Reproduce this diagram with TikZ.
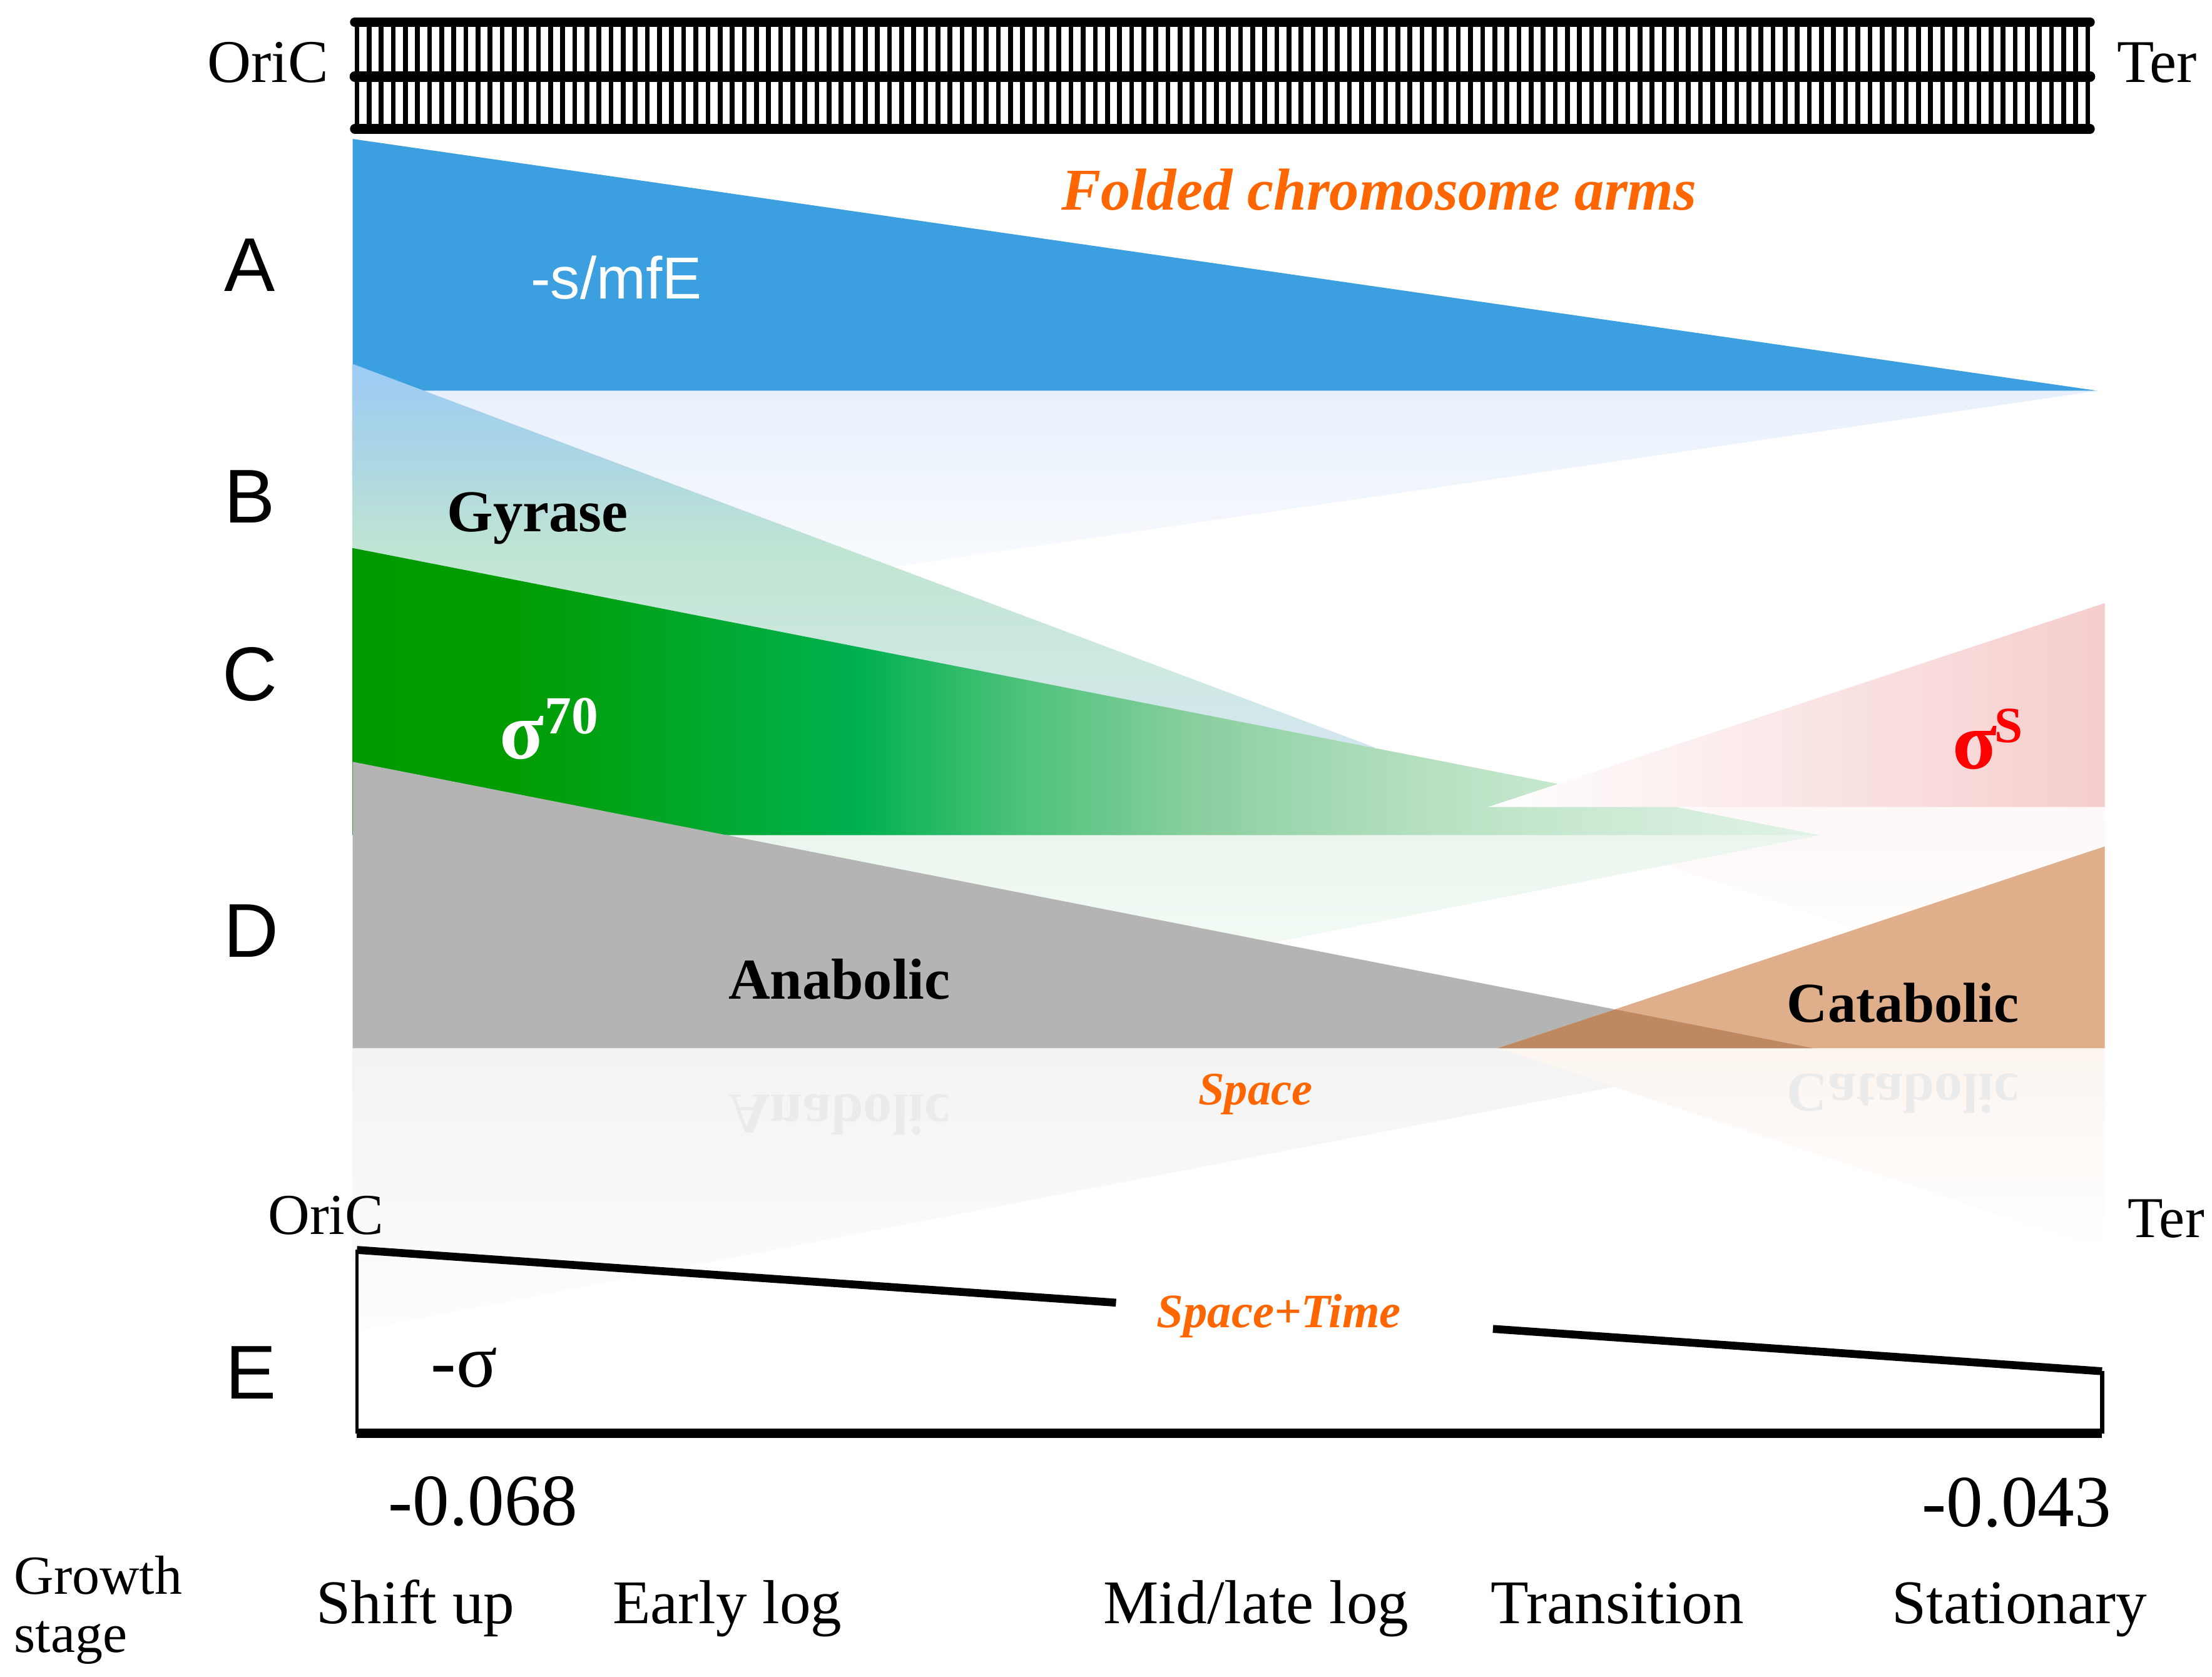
\documentclass[tikz,border=0pt]{standalone}
\usepackage{fontspec}
\setmainfont{Liberation Serif}
\newfontfamily\lsans{Liberation Sans}
\usetikzlibrary{calc}
\newcommand{\setfs}[1]{\fontsize{#1}{#1}\selectfont}
\definecolor{ablue}{HTML}{3CA0E0}
\definecolor{dgray}{HTML}{B4B4B4}
\definecolor{cbrown}{HTML}{DFAE8A}
\definecolor{obrown}{HTML}{BE8860}
\definecolor{orng}{HTML}{FF6600}
\definecolor{spink}{HTML}{F6CDCD}
\definecolor{reflA}{HTML}{E8F0FB}
\definecolor{reflC}{HTML}{EAF6ED}
\definecolor{reflS}{HTML}{FEF8F8}
\definecolor{reflD}{HTML}{F3F3F3}
\definecolor{reflDb}{HTML}{FDFDFD}
\definecolor{reflK}{HTML}{FCF5F0}
\definecolor{gA}{HTML}{009A00}
\definecolor{gB}{HTML}{009C00}
\definecolor{gC}{HTML}{00AD40}
\definecolor{gD}{HTML}{00B050}
\definecolor{gE}{HTML}{4CC27A}
\definecolor{gF}{HTML}{8ACF9F}
\definecolor{gG}{HTML}{AEDDBB}
\definecolor{gH}{HTML}{C3E6CC}
\definecolor{gI}{HTML}{E2F3E7}
\definecolor{bA}{HTML}{D4E6F0}
\definecolor{bB}{HTML}{CDE8E0}
\definecolor{bC}{HTML}{C0E5D2}
\definecolor{bD}{HTML}{ADD7E2}
\definecolor{bE}{HTML}{9DCBF5}
\pgfdeclarehorizontalshading{cshade}{100bp}{color(0bp)=(gA); color(25bp)=(gA); color(30.3bp)=(gB); color(39.9bp)=(gC); color(42.2bp)=(gD); color(47.7bp)=(gE); color(53.8bp)=(gF); color(60bp)=(gG); color(65bp)=(gH); color(75bp)=(gI); color(100bp)=(gI)}
\pgfdeclareverticalshading{bshade}{100bp}{color(0bp)=(bA); color(25bp)=(bA); color(36bp)=(bB); color(50.7bp)=(bC); color(61.8bp)=(bD); color(75bp)=(bE); color(100bp)=(bE)}
\begin{document}
\begin{tikzpicture}[x=0.5pt,y=-0.5pt,
  every node/.style={inner sep=0pt,outer sep=0pt},
  rail/.style={line width=3.4pt,line cap=round},
  rung/.style={line width=1.7pt},
  rowlab/.style={font=\lsans\setfs{27},anchor=center},
  endlab/.style={font=\setfs{21.5},anchor=base},
  boldlab/.style={font=\bfseries\setfs{21},anchor=base},
  orlab/.style={font=\bfseries\itshape,text=orng,anchor=base},
  stagelab/.style={font=\setfs{22},anchor=base},
  numlab/.style={font=\setfs{26},anchor=base},
  mirr/.style={font=\bfseries\setfs{20.5},text=black!8,anchor=base,transform shape}]
\path[fill=white,use as bounding box] (0,0) rectangle (1568,1188.7);

% reflections
\shade[top color=reflA,bottom color=white] (250,277) -- (250,458) -- (1487,277) -- cycle;
\shade[top color=reflS,bottom color=white] (1055,572) -- (1492,572) -- (1492,716) -- cycle;
\shade[top color=reflC,bottom color=white] (250,592) -- (250,796) -- (1290,592) -- cycle;
\shade[top color=reflD,bottom color=reflDb] (250,743) -- (1285,743) -- (250,944) -- cycle;
\shade[top color=reflK,bottom color=white] (1062,743) -- (1492,743) -- (1492,886) -- cycle;

% A
\fill[ablue] (250,98.5) -- (1487,277) -- (250,277) -- cycle;
% B
\shade[shading=bshade] (250,258) -- (975,530) -- (250,530) -- cycle;
% C
\shade[shading=cshade] (250,388.5) -- (1290,592) -- (250,592) -- cycle;
% sigma S
\shade[left color=white,right color=spink] (1055,572) -- (1492,427.5) -- (1492,572) -- cycle;
% D
\fill[dgray] (250,540) -- (1285,743) -- (250,743) -- cycle;
% catabolic
\fill[cbrown] (1062,743) -- (1492,600) -- (1492,743) -- cycle;
\fill[obrown] (1062,743) -- (1145,715.5) -- (1285,743) -- cycle;

% mirrored labels
\begin{scope}[shift={(595,776)},yscale=-1]
\node[mirr] (anamir) at (0,0) {Anabolic};
\end{scope}
\begin{scope}[shift={(1349,761.5)},yscale=-1]
\node[mirr,font=\bfseries\setfs{20}] (catmir) at (0,0) {Catabolic};
\end{scope}

% chromosome ladder
\foreach \i in {0,...,143} \draw[rung] ({253+\i*8.58},16) -- ({253+\i*8.58},91);
\draw[rail] (251.5,15.7) -- (1481.5,15.7);
\draw[rail,line width=3.7pt] (251.5,54.2) -- (1481.5,54.2);
\draw[rail] (251.5,91.4) -- (1481.5,91.4);

% E box
\coordinate (eTL) at (253,886);
\coordinate (eTR) at (1490,972);
\coordinate (eBR) at (1490,1016);
\coordinate (eBL) at (253,1016);
\draw[line width=2.8pt] (eTL) -- ($(eTL)!0.435!(eTR)$);
\draw[line width=2.8pt] ($(eTL)!0.651!(eTR)$) -- (eTR);
\draw[line width=1pt] (eTL) -- (eBL);
\draw[line width=1.6pt] (eTR) -- (eBR);
\draw[line width=3.2pt] (eBL) -- (eBR);

% labels
\node[endlab] (oric1) at (190,58.4) {OriC};
\node[endlab] (ter1) at (1529,58.4) {Ter};
\node[endlab,font=\setfs{20.5}] (oric2) at (231,875) {OriC};
\node[endlab,font=\setfs{20.5}] (ter2) at (1535.5,877) {Ter};

\node[rowlab] (rA) at (177,188) {A};
\node[rowlab] (rB) at (177,352) {B};
\node[rowlab] (rC) at (177,478) {C};
\node[rowlab] (rD) at (178,660) {D};
\node[rowlab] (rE) at (178,973) {E};

\node[orlab,font=\bfseries\itshape\setfs{21}] (folded) at (977.5,148.6) {Folded chromosome arms};
\node[anchor=base,font=\lsans\setfs{21},text=white] (smfe) at (437,212) {-s/mfE};
\node[boldlab] (gyr) at (381,377) {Gyrase};
\node[anchor=base,font=\bfseries\setfs{29},text=white] (sig70) at (370,538) {σ};
\node[anchor=base west,font=\bfseries\setfs{19},text=white] (sup70) at (386,520) {70};
\node[anchor=base,font=\bfseries\setfs{29},text=red] (sigS) at (1400,545) {σ};
\node[anchor=base west,font=\bfseries\setfs{18},text=red] (supS) at (1414,526.5) {S};
\node[boldlab,font=\bfseries\setfs{20.5}] (ana) at (595,708) {Anabolic};
\node[boldlab,font=\bfseries\setfs{20}] (cata) at (1349,724.5) {Catabolic};
\node[orlab,font=\bfseries\itshape\setfs{16.5}] (space) at (890,783) {Space};
\node[orlab,font=\bfseries\itshape\setfs{17}] (spt) at (906.5,941) {Space+Time};
\node[anchor=base,font=\setfs{27}] (msig) at (329,983) {-σ};

\node[numlab] (n1) at (342.5,1081) {-0.068};
\node[numlab] (n2) at (1429.5,1082) {-0.043};

\node[anchor=base west,font=\setfs{19.5}] (gs1) at (10,1130) {Growth};
\node[anchor=base west,font=\setfs{19.5}] (gs2) at (10,1171) {stage};
\node[stagelab] (s1) at (294.5,1151) {Shift up};
\node[stagelab] (s2) at (515.5,1151) {Early log};
\node[stagelab] (s3) at (890.5,1151) {Mid/late log};
\node[stagelab] (s4) at (1146.5,1151) {Transition};
\node[stagelab] (s5) at (1431.5,1151) {Stationary};
\end{tikzpicture}
\end{document}
